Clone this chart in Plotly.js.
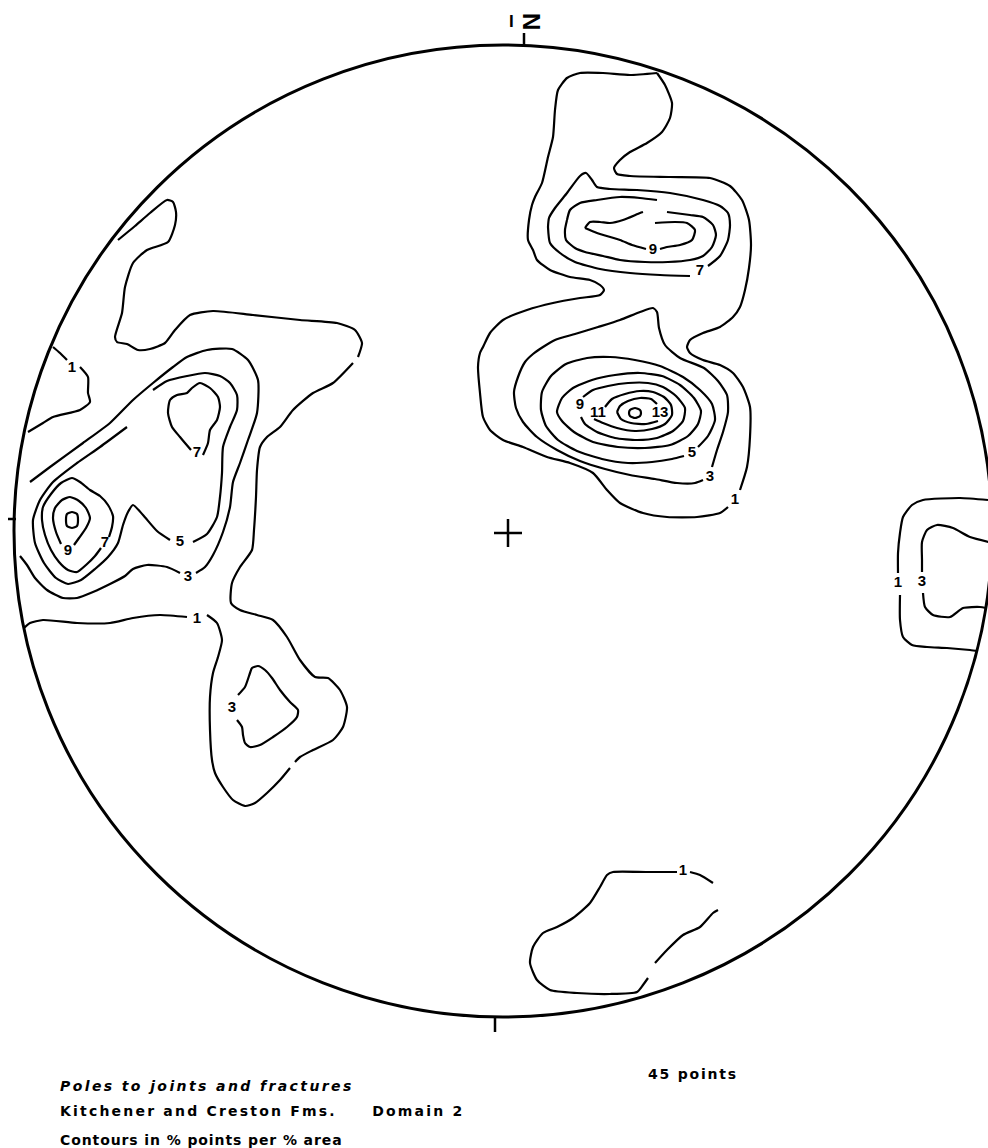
<!DOCTYPE html>
<html><head><meta charset="utf-8">
<script src="https://cdn.plot.ly/plotly-3.0.1.min.js"></script>
<style>html,body{margin:0;padding:0;background:#fff}#chart{width:988px;height:1148px}</style>
</head><body><div id="chart"></div>
<script>
// Digitized contour vertices (source-figure units, y downward); null = pen lift
const left1_x = [118,135,150,167,173,176,175,168,147,133,125,122,115,117,127,138,150,165,175,190,213,253,300,337,355,362,358,null,353,333,313,293,280,267,260,257,256,254,252,240,232,231,240,257,273,287,300,315,328,340,347,343,333,313,300,295,null,290,280,267,255,245,233,223,215,212,210,210,213,218,222,217,207,null,187,160,133,110,77,43,30,24];
const left1_y = [240,226,213,200,202,212,225,242,250,263,287,313,337,342,344,350,349,343,330,315,311,315,320,323,330,343,357,null,363,383,393,410,427,437,447,470,497,530,550,567,583,603,610,615,620,637,660,677,678,690,707,727,740,750,757,762,null,768,780,793,803,806,800,787,773,760,730,697,673,657,640,623,615,null,617,615,618,623,623,620,623,628];
const leftEdge1_x = [53,60,67,null,80,88,88,90,80,53,43,28];
const leftEdge1_y = [347,353,360,null,367,377,393,402,410,417,423,432];
const left3_x = [30,50,83,110,133,153,173,187,207,232,248,258,257,248,240,233,230,223,213,205,196,null,180,167,147,133,125,110,93,77,63,47,35,27,20];
const left3_y = [482,467,443,423,400,383,367,357,350,349,360,380,413,440,463,482,507,532,555,567,573,null,573,567,565,569,576,584,592,598,598,590,578,565,556];
const left5_x = [193,207,217,220,222,223,230,237,237,230,220,205,187,167,153,null,127,100,77,53,40,33,35,44,56,68,81,95,108,118,123,128,133,143,157,170];
const left5_y = [542,534,517,497,473,447,427,410,395,383,376,373,376,381,390,null,427,447,463,482,500,520,543,563,578,584,580,569,557,543,525,512,505,515,531,540];
const left7a_x = [203,208,210,217,220,218,210,200,192,187,177,170,168,172,180,185,191];
const left7a_y = [455,443,430,420,407,397,388,383,388,393,395,400,413,427,437,443,450];
const left7b_x = [109,112,113,108,100,90,80,72,61,51,43,42,45,51,59,68,77,86,95,101];
const left7b_y = [537,527,516,505,496,490,482,478,483,494,507,520,535,550,562,570,572,565,556,548];
const left9_x = [74,79,86,90,86,79,70,62,55,53,56,61];
const left9_y = [545,538,528,518,508,501,497,500,508,518,532,544];
const left11_x = [72,77,78,77,72,67,66,67,72];
const left11_y = [512,514,520,526,528,526,520,514,512];
const lobe3_x = [238,245,250,252,258,265,272,280,290,298,297,287,273,260,250,245,243,242,237];
const lobe3_y = [695,687,673,668,666,670,678,690,702,710,717,727,737,745,747,743,735,727,720];

const right1_x = [657,665,672,670,662,647,630,620,614,617,630,670,710,730,742,749,751,749,745,740,733,720,703,690,687,690,703,720,733,743,750,750,747,740,null,728,720,697,667,643,620,607,593,570,547,523,503,490,483,480,478,480,483,490,503,527,553,580,600,604,600,590,570,550,537,533,528,529,532,535,542,548,553,555,558,567,580,603,630,657];
const right1_y = [73,85,103,118,132,143,152,160,168,174,176,177,178,186,200,220,245,268,290,307,317,327,333,340,347,353,360,365,373,387,407,437,467,490,null,507,513,517,517,513,503,490,473,463,457,447,440,430,417,393,367,353,347,333,320,310,303,298,295,290,285,280,277,270,260,250,240,220,205,197,183,157,137,110,90,78,73,73,75,73];
const up9_x = [585,590,600,610,623,640,643,null,655,675,687,695,692,680,667,660,null,646,632,620,597,585];
const up9_y = [228,222,222,223,220,213,212,null,223,222,223,230,240,245,247,249,null,249,245,240,233,228];
const up7_x = [567,570,580,597,620,640,657,null,667,690,703,713,716,712,703,690,668,645,620,603,585,575,566,565,567];
const up7_y = [220,210,203,200,197,198,200,null,212,215,217,225,235,247,256,260,262,262,260,256,252,248,240,230,220];
const up5_x = [548,550,560,575,600,630,660,690,null,708,720,728,730,728,720,703,670,637,610,597,592,586,580,567,555,549,548];
const up5_y = [227,243,253,262,269,273,275,276,null,266,256,240,225,213,206,200,193,190,189,187,180,173,176,193,208,218,227];
const low3_x = [712,717,723,728,727,718,704,680,665,659,657,653,640,620,598,575,555,543,533,525,518,514,516,523,537,557,580,605,630,655,677,695,703];
const low3_y = [467,450,432,412,395,381,368,358,345,328,312,308,312,320,327,334,340,347,354,362,377,392,408,422,437,450,461,469,475,479,483,483,480];
const low5_x = [698,708,715,712,700,683,660,635,610,587,566,551,542,541,546,558,577,602,628,652,672,684];
const low5_y = [447,436,420,404,390,377,366,360,357,358,364,376,392,410,426,440,451,459,463,462,459,456];
const low7_x = [557,562,573,592,615,640,662,680,694,701,698,688,670,645,618,593,574,562,557];
const low7_y = [412,398,388,380,375,373,376,385,398,411,424,436,445,448,447,442,432,421,412];
const low9_x = [583,593,608,628,648,663,676,685,683,673,657,637,615,597,585,581];
const low9_y = [397,390,386,383,383,387,396,408,421,431,438,440,438,432,424,417];
const low11_x = [605,612,625,640,653,664,671,672,665,652,635,617,603,594];
const low11_y = [407,399,394,391,392,397,405,415,424,429,431,428,423,419];
const low13_x = [617,620,628,640,651,657,null,658,646,631,621,617];
const low13_y = [412,406,401,398,399,404,null,421,424,423,419,412];
const lowMax_x = [635,640,641,640,635,630,629,630,635];
const lowMax_y = [408,410,413,416,418,416,413,410,408];

const edge1_x = [988,960,923,912,903,900,898,898,null,900,900,903,912,927,947,970,978];
const edge1_y = [500,498,500,505,517,533,553,573,null,595,620,637,645,647,648,650,651];
const edge3_x = [989,970,953,937,927,922,922,922,null,923,925,933,950,963,980,986];
const edge3_y = [542,537,528,525,530,542,560,572,null,593,607,615,617,608,607,608];
const bottom1_x = [690,700,713,null,718,713,700,683,667,655,null,648,643,637,610,577,550,537,530,533,543,557,573,590,600,607,613,647,677];
const bottom1_y = [872,875,883,null,910,913,927,935,950,963,null,978,985,992,994,993,990,980,963,947,933,927,918,903,887,875,872,872,872];

// Contour labels (% points per % area)
const label_text = ["1","1","7","7","9","5","3","3","9","7","9","11","13","5","3","1","1","3","1"];
const label_x = [72,197,197,105,68,180,188,232,653,700,580,598,660,692,710,735,898,922,683];
const label_y = [368,619,453,543,551,542,577,708,250,271,405,413,413,453,477,500,583,582,871];

// Net geometry (source-figure units)
const net = {cx: 503, cy: 531, rx: 489, ry: 486};
const centreMark = {x: 508, y: 533, arm: 14};
const nTick = {x: 524, y0: 33, y1: 47};
const wTick = {y: 519, x0: 8, x1: 16};
const sTick = {x: 495, y0: 1016, y1: 1032};

const contours = [
  [left1_x,left1_y],[leftEdge1_x,leftEdge1_y],[left3_x,left3_y],[left5_x,left5_y],
  [left7a_x,left7a_y],[left7b_x,left7b_y],[left9_x,left9_y],[left11_x,left11_y],[lobe3_x,lobe3_y],
  [right1_x,right1_y],[up9_x,up9_y],[up7_x,up7_y],[up5_x,up5_y],
  [low3_x,low3_y],[low5_x,low5_y],[low7_x,low7_y],[low9_x,low9_y],[low11_x,low11_y],[low13_x,low13_y],[lowMax_x,lowMax_y],
  [edge1_x,edge1_y],[edge3_x,edge3_y],[bottom1_x,bottom1_y]
];

const traces = contours.map(c => ({
  type: 'scatter', mode: 'lines', x: c[0], y: c[1],
  line: {color: '#000', width: 2.2, shape: 'spline', smoothing: 0.6},
  connectgaps: false, hoverinfo: 'skip', showlegend: false
}));
traces.push({
  type: 'scatter', mode: 'text', x: label_x, y: label_y, text: label_text,
  textposition: 'middle center',
  textfont: {family: 'Liberation Sans, Arial, sans-serif', size: 15, color: '#000', weight: 'bold'},
  hoverinfo: 'skip', showlegend: false
});

const ln = {color: '#000', width: 2.5};
const shapes = [
  {type: 'circle', xref: 'x', yref: 'y', x0: net.cx - net.rx, x1: net.cx + net.rx, y0: net.cy - net.ry, y1: net.cy + net.ry, line: {color: '#000', width: 3}},
  {type: 'line', x0: centreMark.x - centreMark.arm, x1: centreMark.x + centreMark.arm, y0: centreMark.y, y1: centreMark.y, line: ln},
  {type: 'line', x0: centreMark.x, x1: centreMark.x, y0: centreMark.y - centreMark.arm, y1: centreMark.y + centreMark.arm, line: ln},
  {type: 'line', x0: nTick.x, x1: nTick.x, y0: nTick.y0, y1: nTick.y1, line: ln},
  {type: 'line', x0: wTick.x0, x1: wTick.x1, y0: wTick.y, y1: wTick.y, line: ln},
  {type: 'line', x0: sTick.x, x1: sTick.x, y0: sTick.y0, y1: sTick.y1, line: ln}
];

const txtFont = {family: 'DejaVu Sans, sans-serif', size: 14, color: '#000', weight: 'bold'};
const annotations = [
  {x: 511, y: 21, text: '<b>I</b>', showarrow: false, font: {family: 'Liberation Sans, Arial', size: 17, color: '#000'}},
  {x: 532, y: 21, text: '<b>N</b>', textangle: 90, showarrow: false, font: {family: 'Liberation Sans, Arial', size: 24, color: '#000'}},
  {x: 58, y: 1086, xanchor: 'left', align: 'left', text: '<i>Poles to joints and fractures</i>', showarrow: false, font: txtFont},
  {x: 58, y: 1111, xanchor: 'left', align: 'left', text: 'Kitchener and Creston Fms.     Domain 2', showarrow: false, font: txtFont},
  {x: 58, y: 1140, xanchor: 'left', align: 'left', text: 'Contours in % points per % area', showarrow: false, font: txtFont},
  {x: 646, y: 1074, xanchor: 'left', align: 'left', text: '45 points', showarrow: false, font: txtFont}
];
const letterSpacing = [null, null, '2.4px', '2.2px', '0.9px', '1.8px'];

const layout = {
  width: 988, height: 1148, margin: {l: 0, r: 0, t: 0, b: 0},
  paper_bgcolor: '#fff', plot_bgcolor: '#fff',
  xaxis: {range: [0, 988], visible: false, fixedrange: true},
  yaxis: {range: [1148, 0], visible: false, fixedrange: true},
  shapes: shapes, annotations: annotations, showlegend: false, hovermode: false
};

Plotly.newPlot('chart', traces, layout, {staticPlot: true, displayModeBar: false}).then(() => {
  document.querySelectorAll('#chart .annotation-text').forEach((t, i) => {
    if (letterSpacing[i]) { t.style.letterSpacing = letterSpacing[i]; t.style.whiteSpace = 'pre'; }
  });
});
</script>
</body></html>
